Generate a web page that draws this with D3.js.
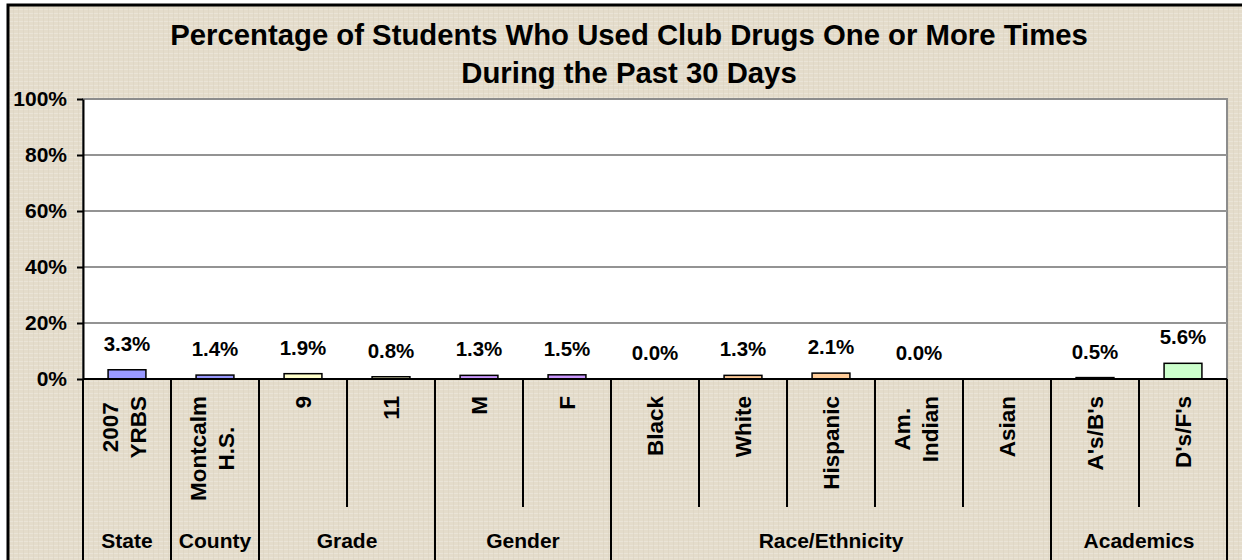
<!DOCTYPE html>
<html>
<head>
<meta charset="utf-8">
<script src="https://cdn.jsdelivr.net/npm/d3@7"></script>
<style>
  body { margin: 0; background: #fff; }
  svg text { font-family: "Liberation Sans", Arial, sans-serif; font-weight: bold; fill: #000; }
</style>
</head>
<body>
<svg width="1242" height="560"></svg>
<script>
var titleLines = ["Percentage of Students Who Used Club Drugs One or More Times", "During the Past 30 Days"];
var groups = ["State", "County", "Grade", "Gender", "Race/Ethnicity", "Academics"];
var categories = ["2007\nYRBS", "Montcalm\nH.S.", "9", "11", "M", "F", "Black", "White", "Hispanic", "Am.\nIndian", "Asian", "A's/B's", "D's/F's"];
var categoryGroup = ["State", "County", "Grade", "Grade", "Gender", "Gender", "Race/Ethnicity", "Race/Ethnicity", "Race/Ethnicity", "Race/Ethnicity", "Race/Ethnicity", "Academics", "Academics"];
var values = [3.3, 1.4, 1.9, 0.8, 1.3, 1.5, 0.0, 1.3, 2.1, 0.0, null, 0.5, 5.6];
var yTicks = [0, 20, 40, 60, 80, 100];

document.addEventListener("DOMContentLoaded", function () {

  var svg = d3.select("svg");
  var left = 83, right = 1227, top = 99, bottom = 379;

  var xScale = d3.scaleBand().domain(categories).range([left, right])
    .paddingInner(0.57).paddingOuter(0.285);
  var yScale = d3.scaleLinear().domain([0, 100]).range([bottom, top]);
  var colour = d3.scaleOrdinal().domain(groups)
    .range(["#9999FF", "#9999FF", "#FFFFCC", "#CC99FF", "#FFCC99", "#CCFFCC"]);

  // linen-like background, kept low contrast
  var defs = svg.append("defs");
  var pat = defs.append("pattern").attr("id", "linen")
    .attr("width", 5).attr("height", 4).attr("patternUnits", "userSpaceOnUse");
  pat.append("rect").attr("width", 5).attr("height", 4).attr("fill", "#E4DCCB");
  pat.append("line").attr("x1", 0).attr("x2", 5).attr("y1", 1.5).attr("y2", 1.5)
    .style("stroke", "#ECE6DA").style("stroke-width", 0.8);
  pat.append("line").attr("x1", 3.5).attr("x2", 3.5).attr("y1", 0).attr("y2", 4)
    .style("stroke", "#DCD3C1").style("stroke-width", 0.6);

  svg.append("rect")
    .attr("x", 8).attr("y", 5).attr("width", 1260).attr("height", 580)
    .attr("fill", "url(#linen)")
    .style("stroke", "#000").style("stroke-width", 3);

  // title
  svg.append("g").selectAll("text")
    .data(titleLines).enter()
    .append("text")
    .attr("x", 629)
    .attr("y", function (d, i) { return 45 + i * 38; })
    .attr("text-anchor", "middle")
    .style("font-size", "29.3px")
    .text(function (d) { return d; });

  // plot area
  svg.append("rect")
    .attr("x", left).attr("y", top)
    .attr("width", right - left).attr("height", bottom - top)
    .attr("fill", "#fff")
    .style("stroke", "#8C8C8C").style("stroke-width", 2);

  svg.append("g").selectAll("line")
    .data(yTicks.slice(1, -1)).enter()
    .append("line")
    .attr("x1", left).attr("x2", right)
    .attr("y1", function (d) { return yScale(d); })
    .attr("y2", function (d) { return yScale(d); })
    .style("stroke", "#939393").style("stroke-width", 2);

  // y axis
  var yAxis = d3.axisLeft(yScale)
    .tickValues(yTicks)
    .tickFormat(function (d) { return d + "%"; })
    .tickSize(6).tickSizeOuter(0).tickPadding(10);

  var yAxisG = svg.append("g")
    .attr("transform", "translate(" + left + ",0)")
    .call(yAxis);
  yAxisG.selectAll("path, line").style("stroke", "#000").style("stroke-width", 2);
  yAxisG.selectAll("text").style("font-size", "21px")
    .style("font-family", "'Liberation Sans', Arial, sans-serif").attr("font-weight", "bold");

  // bars
  var bars = categories.map(function (c, i) {
    return { cat: c, value: values[i], group: categoryGroup[i] };
  }).filter(function (d) { return d.value !== null; });

  svg.append("g").selectAll("rect")
    .data(bars).enter()
    .append("rect")
    .attr("x", function (d) { return xScale(d.cat); })
    .attr("width", xScale.bandwidth())
    .attr("y", function (d) { return yScale(d.value); })
    .attr("height", function (d) { return yScale(0) - yScale(d.value); })
    .attr("fill", function (d) { return colour(d.group); })
    .style("stroke", "#000").style("stroke-width", 1.5);

  svg.append("g").selectAll("text")
    .data(bars).enter()
    .append("text")
    .attr("x", function (d) { return xScale(d.cat) + xScale.bandwidth() / 2; })
    .attr("y", function (d) { return yScale(d.value) - 19; })
    .attr("text-anchor", "middle")
    .style("font-size", "20.5px")
    .text(function (d) { return d.value.toFixed(1) + "%"; });

  // x axis line
  svg.append("line")
    .attr("x1", left).attr("x2", right)
    .attr("y1", bottom).attr("y2", bottom)
    .style("stroke", "#000").style("stroke-width", 2);

  // category dividers: long at group edges, short inside a group
  var gap = (xScale.step() - xScale.bandwidth()) / 2;
  var edges = categories.map(function (c, i) {
    var newGroup = i === 0 || categoryGroup[i] !== categoryGroup[i - 1];
    return { x: xScale(c) - gap, long: newGroup };
  });
  edges.push({ x: right, long: true });

  svg.append("g").selectAll("line")
    .data(edges).enter()
    .append("line")
    .attr("x1", function (d) { return d.x; })
    .attr("x2", function (d) { return d.x; })
    .attr("y1", bottom)
    .attr("y2", function (d) { return d.long ? 560 : 507; })
    .style("stroke", "#000").style("stroke-width", 2);

  // rotated category labels
  var catG = svg.append("g").selectAll("g")
    .data(categories).enter()
    .append("g");

  catG.each(function (c) {
    var lines = c.split("\n");
    var g = d3.select(this);
    var t = g.selectAll("text").data(lines).enter()
      .append("text")
      .attr("text-anchor", "middle")
      .attr("x", 0)
      .attr("y", function (d, i) { return (i - (lines.length - 1) / 2) * 28; })
      .attr("dy", "0.36em")
      .style("font-size", "22.5px")
      .text(function (d) { return d; });
    var maxLen = d3.max(t.nodes(), function (n) { return n.getComputedTextLength(); });
    var shift = lines.length > 1 ? -3 : 0;
    g.attr("transform", "translate(" + (xScale(c) + xScale.bandwidth() / 2 + shift) + "," +
      (396 + maxLen / 2) + ") rotate(-90)");
  });

  // group labels
  svg.append("g").selectAll("text")
    .data(groups).enter()
    .append("text")
    .attr("x", function (g) {
      var cats = categories.filter(function (c, i) { return categoryGroup[i] === g; });
      var x0 = xScale(cats[0]) - gap;
      var x1 = xScale(cats[cats.length - 1]) + xScale.bandwidth() + gap;
      return (x0 + x1) / 2;
    })
    .attr("y", 548)
    .attr("text-anchor", "middle")
    .style("font-size", "21px")
    .text(function (d) { return d; });

});
</script>
</body>
</html>
